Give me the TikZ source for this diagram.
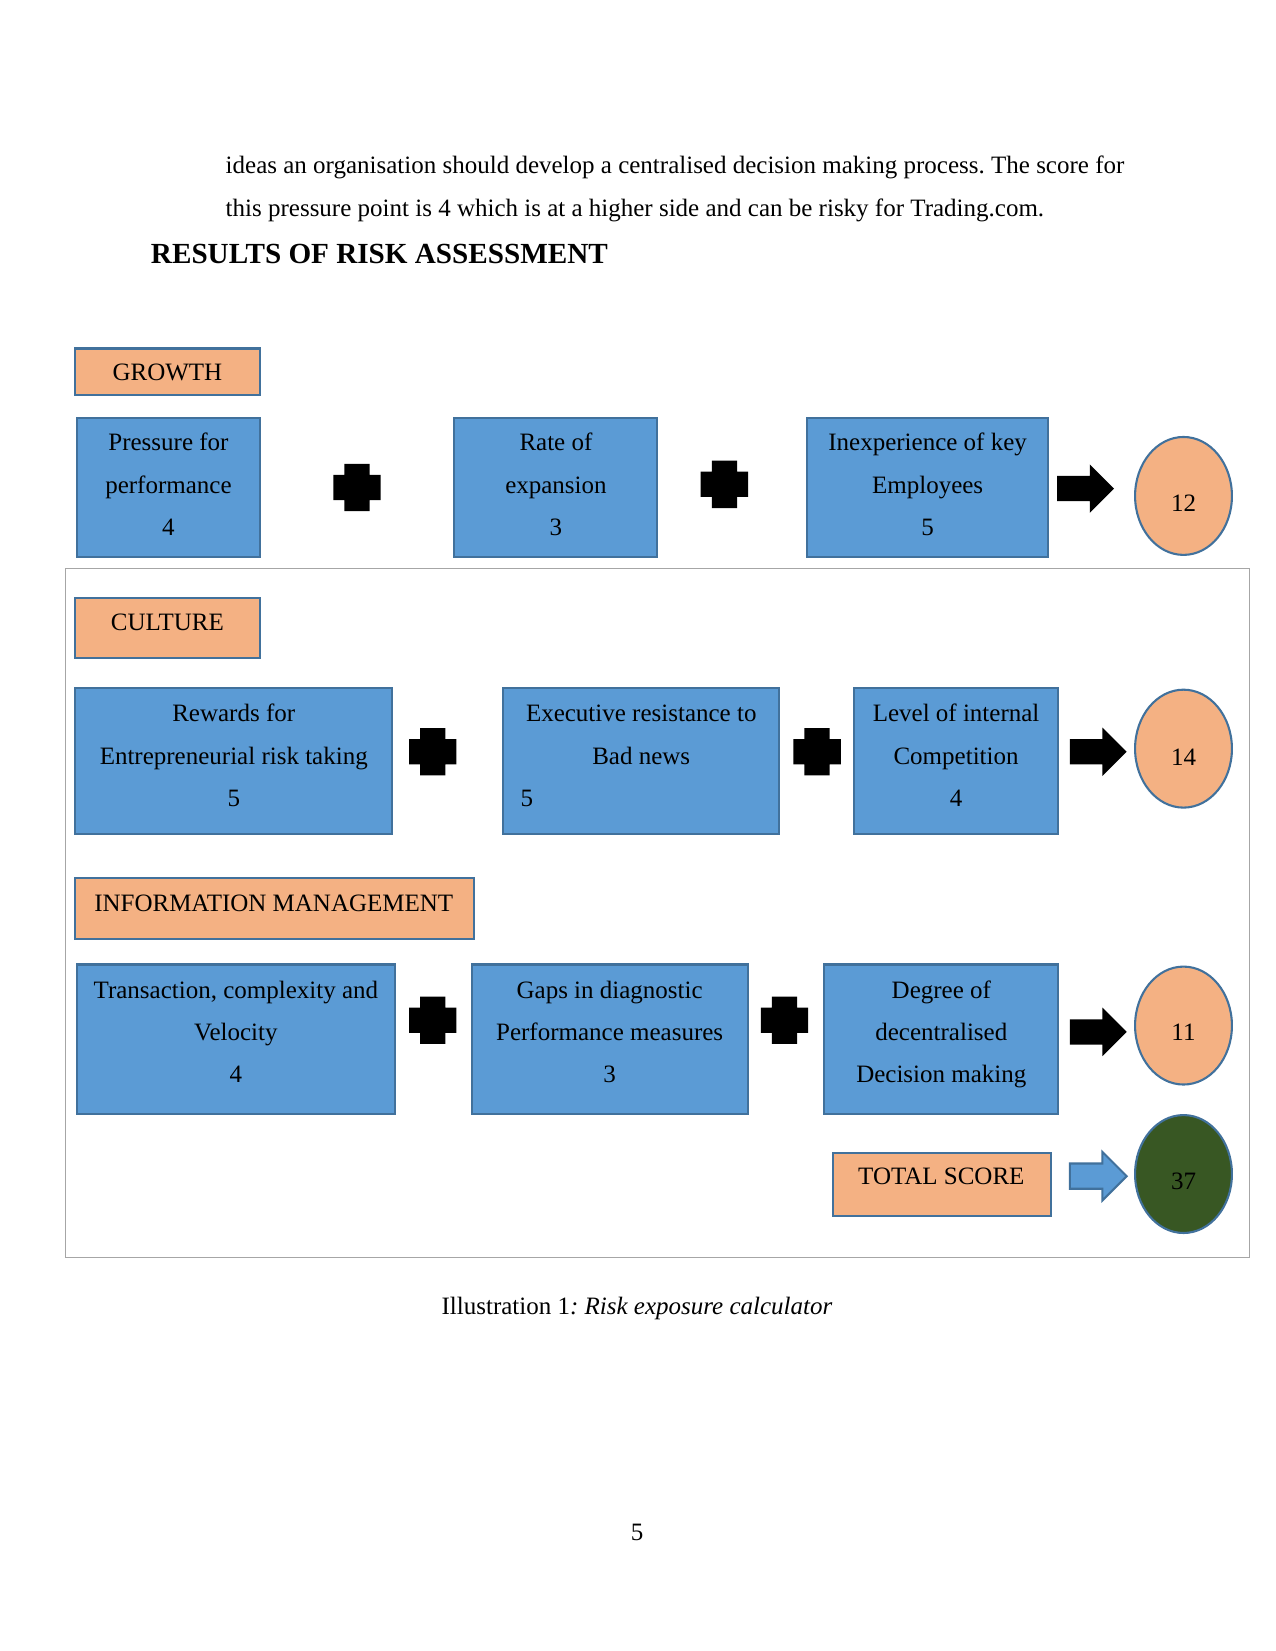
\documentclass[tikz,border=0pt]{standalone}
\usepackage{fontspec}
\setmainfont{Liberation Serif}
\frenchspacing
\definecolor{boxblue}{HTML}{5B9BD5}
\definecolor{edgeblue}{HTML}{41719C}
\definecolor{peach}{HTML}{F4B183}
\definecolor{darkgreen}{HTML}{385723}
\definecolor{framegray}{HTML}{A6A6A6}
\tikzset{
  bluebox/.style={draw=edgeblue, fill=boxblue, line width=1pt},
  peachbox/.style={draw=edgeblue, fill=peach, line width=1pt},
  scorecirc/.style={draw=edgeblue, fill=peach, line width=1pt},
  totalcirc/.style={draw=edgeblue, fill=darkgreen, line width=1pt},
  txt/.style={anchor=base, inner sep=0pt, font=\fontsize{12}{14}\selectfont},
  txtl/.style={anchor=base west, inner sep=0pt, font=\fontsize{12}{14}\selectfont},
  plusmark/.pic={\fill[black] (-12,-22.5) -- (12,-22.5) -- (12,-12) -- (22.5,-12) -- (22.5,12) -- (12,12) -- (12,22.5) -- (-12,22.5) -- (-12,12) -- (-22.5,12) -- (-22.5,-12) -- (-12,-12) -- cycle;},
  blockarrow/.pic={\path[pic actions] (0,-12) -- (31,-12) -- (31,-23) -- (54,0) -- (31,23) -- (31,12) -- (0,12) -- cycle;}
}
\begin{document}
\begin{tikzpicture}[x=0.5054pt, y=-0.5054pt]
\useasboundingbox (0,0) rectangle (1211,1568);
\fill[white] (0,0) rectangle (1211,1568);

% body text
\node[txtl] (l1) at (214,165) {ideas an organisation should develop a centralised decision making process. The score for};
\node[txtl] (l2) at (214,206) {this pressure point is 4 which is at a higher side and can be risky for Trading.com.};
\node[anchor=base west, inner sep=0pt, font=\fontsize{14}{16}\selectfont\bfseries] (head) at (143,250) {RESULTS OF RISK ASSESSMENT};

% frame
\draw[framegray, line width=0.6pt] (62,540) rectangle (1187,1194);

% ---- GROWTH ----
\draw[peachbox] (71,331) rectangle (247,375);
\node[txt] (g) at (159,361) {GROWTH};

\draw[bluebox] (73,397) rectangle (247,529);
\node[txt] (g1a) at (160,428) {Pressure for};
\node[txt] (g1b) at (160,469) {performance};
\node[txt] (g1c) at (160,509) {4};

\pic at (339,463) {plusmark};

\draw[bluebox] (431,397) rectangle (624,529);
\node[txt] (g2a) at (528,428) {Rate of};
\node[txt] (g2b) at (528,469) {expansion};
\node[txt] (g2c) at (528,509) {3};

\pic at (688,460) {plusmark};

\draw[bluebox] (766,397) rectangle (995,529);
\node[txt] (g3a) at (881,428) {Inexperience of key};
\node[txt] (g3b) at (881,469) {Employees};
\node[txt] (g3c) at (881,509) {5};

\pic[fill=black] at (1004,464) {blockarrow};

\draw[scorecirc] (1124,471) ellipse [x radius=46, y radius=56];
\node[txt] (s1) at (1124,486) {12};

% ---- CULTURE ----
\draw[peachbox] (71,568) rectangle (247,625);
\node[txt] (c) at (159,599) {CULTURE};

\draw[bluebox] (71,653) rectangle (372,792);
\node[txt] (c1a) at (222,685) {Rewards for};
\node[txt] (c1b) at (222,726) {Entrepreneurial risk taking};
\node[txt] (c1c) at (222,766) {5};

\pic at (411,714) {plusmark};

\draw[bluebox] (478,653) rectangle (740,792);
\node[txt] (c2a) at (609,685) {Executive resistance to};
\node[txt] (c2b) at (609,726) {Bad news};
\node[txtl] (c2c) at (494,766) {5};

\pic at (776,714) {plusmark};

\draw[bluebox] (811,653) rectangle (1005,792);
\node[txt] (c3a) at (908,685) {Level of internal};
\node[txt] (c3b) at (908,726) {Competition};
\node[txt] (c3c) at (908,766) {4};

\pic[fill=black] at (1016,714) {blockarrow};

\draw[scorecirc] (1124,711) ellipse [x radius=46, y radius=56];
\node[txt] (s2) at (1124,727) {14};

% ---- INFORMATION MANAGEMENT ----
\draw[peachbox] (71,834) rectangle (450,892);
\node[txt] (im) at (260,866) {INFORMATION MANAGEMENT};

\draw[bluebox] (73,916) rectangle (375,1058);
\node[txt] (i1a) at (224,948) {Transaction, complexity and};
\node[txt] (i1b) at (224,988) {Velocity};
\node[txt] (i1c) at (224,1028) {4};

\pic at (411,969) {plusmark};

\draw[bluebox] (448,916) rectangle (710,1058);
\node[txt] (i2a) at (579,948) {Gaps in diagnostic};
\node[txt] (i2b) at (579,988) {Performance measures};
\node[txt] (i2c) at (579,1028) {3};

\pic at (745,969) {plusmark};

\draw[bluebox] (783,916) rectangle (1005,1058);
\node[txt] (i3a) at (894,948) {Degree of};
\node[txt] (i3b) at (894,988) {decentralised};
\node[txt] (i3c) at (894,1028) {Decision making};

\pic[fill=black] at (1016,980) {blockarrow};

\draw[scorecirc] (1124,974) ellipse [x radius=46, y radius=56];
\node[txt] (s3) at (1124,988) {11};

% ---- TOTAL ----
\draw[peachbox] (791,1095) rectangle (998,1155);
\node[txt] (ts) at (894,1125) {TOTAL SCORE};

\pic[fill=boxblue, draw=edgeblue, line width=1pt] at (1016,1117) {blockarrow};

\draw[totalcirc] (1124,1115) ellipse [x radius=46, y radius=56];
\node[txt] (s4) at (1124,1130) {37};

% caption
\node[txt] (cap) at (605,1248) {Illustration 1\textit{: Risk exposure calculator}};
\node[txt] (pg) at (605,1463) {5};
\end{tikzpicture}
\end{document}
